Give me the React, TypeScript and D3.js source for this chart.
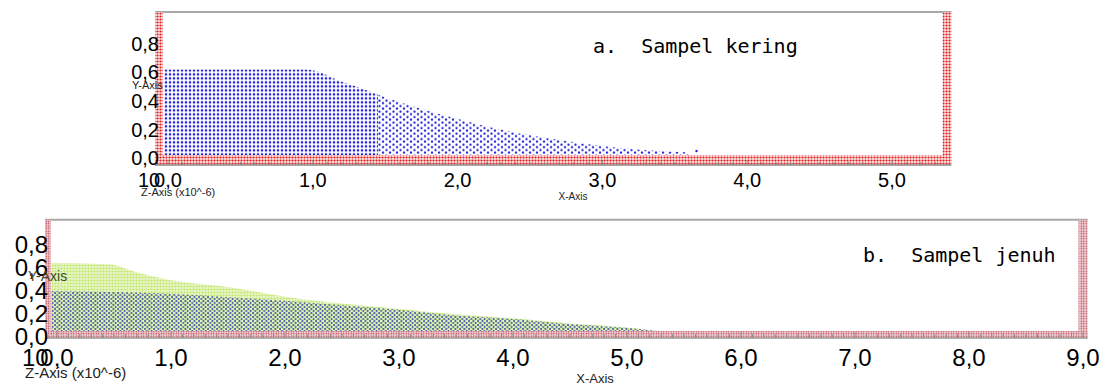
import React from 'react';
import * as d3 from 'd3';

// ---------- tick labels ----------
const yTickValues = [0, 0.2, 0.4, 0.6, 0.8];
const xTicksA = [0, 1, 2, 3, 4, 5];
const xTicksB = [0, 1, 2, 3, 4, 5, 6, 7, 8, 9];
const fmt = (v: number) => v.toFixed(1).replace('.', ',');

// ---------- panel a: dry sample free surface (x, height) ----------
const surfA_x = [-0.03, 0.95, 1.05, 1.16, 1.3, 1.46, 1.7, 1.98, 2.25, 2.5, 2.75, 3.0, 3.31, 3.6];
const surfA_h = [0.62, 0.62, 0.6, 0.55, 0.5, 0.44, 0.36, 0.28, 0.21, 0.16, 0.12, 0.085, 0.055, 0.04];
const strayA_x = [3.65];
const strayA_h = [0.05];

// ---------- panel b: saturated sample ----------
const surfBg_x = [-0.05, 0.45, 0.7, 1.0, 1.5, 2.0, 2.5, 3.0, 3.5, 4.0, 4.5, 5.0, 5.25];
const surfBg_h = [0.64, 0.63, 0.56, 0.49, 0.43, 0.345, 0.285, 0.24, 0.19, 0.155, 0.11, 0.075, 0.045];
const surfBb_x = [-0.05, 0.5, 1.0, 1.5, 2.0, 2.5, 3.0, 3.5, 4.0, 4.5, 5.0, 5.25];
const surfBb_h = [0.395, 0.385, 0.37, 0.34, 0.31, 0.27, 0.23, 0.18, 0.15, 0.105, 0.07, 0.045];

const FLOOR_A = 0.022;
const FLOOR_B = 0.044;

export default function App() {
  const xA = d3.scaleLinear().domain([0, 5]).range([168, 168 + 5 * 144.8]);
  const yA = d3.scaleLinear().domain([0, 1]).range([158.2, 158.2 - 143.25]);
  const xB = d3.scaleLinear().domain([0, 9]).range([57, 57 + 9 * 114]);
  const yB = d3.scaleLinear().domain([0, 1]).range([336, 222]);

  const mkArea = (xs: number[], hs: number[], x: any, y: any, floor: number) =>
    d3
      .area<number>()
      .x((_, i) => x(xs[i]))
      .y0(y(floor))
      .y1((_, i) => y(hs[i]))
      .curve(d3.curveMonotoneX)(hs) as string;

  const areaA = mkArea(surfA_x, surfA_h, xA, yA, FLOOR_A);
  const areaBg = mkArea(surfBg_x, surfBg_h, xB, yB, FLOOR_B);
  const areaBb = mkArea(surfBb_x, surfBb_h, xB, yB, FLOOR_B);

  const minorA = d3.range(0, 54, 1).map((i) => i / 10);
  const minorB = d3.range(0, 91, 1).map((i) => i / 10);

  const axisFont = "'Liberation Sans', Arial, sans-serif";
  const monoFont = "'DejaVu Sans Mono', monospace";

  // walls geometry (data units)
  const aL0 = -0.09, aL1 = -0.035, aR0 = 5.35, aR1 = 5.41, aTop = 1.02, aBot = -0.047;
  const bL0 = -0.105, bL1 = -0.053, bR0 = 8.96, bR1 = 9.04, bTop = 1.02, bBot = -0.018;

  return (
    <svg width={1108} height={385} style={{ position: 'absolute', left: 0, top: 0, background: '#fff' }}>
      <defs>
        <pattern id="blueDense" patternUnits="userSpaceOnUse" width={4} height={4} x={0} y={yA(0.62) - 1}>
          <circle cx={2} cy={2} r={1.3} fill="#2222dd" />
        </pattern>
        <pattern id="blueSparse" patternUnits="userSpaceOnUse" width={7} height={5.5}>
          <circle cx={1.5} cy={1.5} r={1.15} fill="#2424d8" />
          <circle cx={5} cy={4.2} r={1.15} fill="#2424d8" />
        </pattern>
        <pattern id="redWallA" patternUnits="userSpaceOnUse" width={3} height={3}>
          <rect width={3} height={3} fill="#fbe6e6" />
          <circle cx={1.5} cy={1.5} r={1.1} fill="#e01c1c" />
        </pattern>
        <pattern id="greenDots" patternUnits="userSpaceOnUse" width={3} height={3}>
          <rect width={3} height={3} fill="#eaf7cc" />
          <circle cx={1.5} cy={1.5} r={1.1} fill="#c2e66a" />
        </pattern>
        <pattern id="blueB" patternUnits="userSpaceOnUse" width={4.5} height={4}>
          <circle cx={1} cy={1} r={0.95} fill="#2f3fae" />
          <circle cx={3.2} cy={3} r={0.95} fill="#3d4db4" />
        </pattern>
        <pattern id="redWallB" patternUnits="userSpaceOnUse" width={2.5} height={2.5}>
          <rect width={2.5} height={2.5} fill="#f0d4d8" />
          <circle cx={1.25} cy={1.25} r={0.75} fill="#b83a4c" />
        </pattern>
        <clipPath id="clipDenseA">
          <rect x={0} y={0} width={xA(1.45)} height={200} />
        </clipPath>
        <clipPath id="clipSparseA">
          <rect x={xA(1.45)} y={0} width={1108} height={200} />
        </clipPath>
      </defs>

      {/* ================= PANEL A ================= */}
      <g>
        <line x1={xA(aL0)} x2={xA(aR1)} y1={yA(aTop)} y2={yA(aTop)} stroke="#a8a8a8" strokeWidth={2} />
        <path d={areaA} fill="url(#blueDense)" clipPath="url(#clipDenseA)" />
        <path d={areaA} fill="url(#blueSparse)" clipPath="url(#clipSparseA)" />
        {strayA_x.map((x, i) => (
          <circle key={i} cx={xA(x)} cy={yA(strayA_h[i])} r={1.2} fill="#2424d8" />
        ))}
        {/* walls */}
        <rect x={xA(aL0)} y={yA(aTop)} width={xA(aL1) - xA(aL0)} height={yA(aBot) - yA(aTop)} fill="url(#redWallA)" />
        <rect x={xA(aR0)} y={yA(aTop)} width={xA(aR1) - xA(aR0)} height={yA(aBot) - yA(aTop)} fill="url(#redWallA)" />
        <rect x={xA(aL0)} y={yA(FLOOR_A)} width={xA(aR1) - xA(aL0)} height={yA(aBot) - yA(FLOOR_A)} fill="url(#redWallA)" />
        <line x1={xA(aL0)} x2={xA(aR1)} y1={yA(aBot)} y2={yA(aBot)} stroke="#8a8a8a" strokeWidth={1.5} />
        {minorA.map((v) => (
          <line key={v} x1={xA(v)} x2={xA(v)} y1={yA(aBot)} y2={yA(aBot) - (Number.isInteger(v) ? 5 : 3)} stroke="#888" strokeWidth={1} />
        ))}
        {/* y tick labels */}
        {yTickValues.map((v) => (
          <text key={v} x={159} y={yA(v) + 7} textAnchor="end" fontFamily={axisFont} fontSize={20} fill="#000">
            {fmt(v)}
          </text>
        ))}
        {/* x tick labels */}
        {xTicksA.map((v) => (
          <text key={v} x={xA(v)} y={187} textAnchor="middle" fontFamily={axisFont} fontSize={20} fill="#000">
            {fmt(v)}
          </text>
        ))}
        <text x={138} y={187} fontFamily={axisFont} fontSize={20} fill="#000">10</text>
        <text x={132} y={89} fontFamily={axisFont} fontSize={11} fill="#222">Y-Axis</text>
        <text x={141} y={196} fontFamily={axisFont} fontSize={11} fill="#222">Z-Axis (x10^-6)</text>
        <text x={573} y={200} textAnchor="middle" fontFamily={axisFont} fontSize={10} fill="#222">X-Axis</text>
        <text x={593} y={53} fontFamily={monoFont} fontSize={20} fill="#000" style={{ whiteSpace: 'pre' }}>
          {'a.  Sampel kering'}
        </text>
      </g>

      {/* ================= PANEL B ================= */}
      <g>
        <line x1={xB(bL0)} x2={xB(bR1)} y1={yB(bTop)} y2={yB(bTop)} stroke="#a8a8a8" strokeWidth={2} />
        <path d={areaBg} fill="url(#greenDots)" />
        <path d={areaBb} fill="url(#blueB)" />
        {/* walls */}
        <rect x={xB(bL0)} y={yB(bTop)} width={xB(bL1) - xB(bL0)} height={yB(bBot) - yB(bTop)} fill="url(#redWallB)" />
        <rect x={xB(bR0)} y={yB(bTop)} width={xB(bR1) - xB(bR0)} height={yB(bBot) - yB(bTop)} fill="url(#redWallB)" />
        <rect x={xB(bL0)} y={yB(FLOOR_B)} width={xB(bR1) - xB(bL0)} height={yB(bBot) - yB(FLOOR_B)} fill="url(#redWallB)" />
        <line x1={xB(bL0)} x2={xB(bR1)} y1={yB(bBot)} y2={yB(bBot)} stroke="#9a9a9a" strokeWidth={1.5} />
        {minorB.map((v) => (
          <line key={v} x1={xB(v)} x2={xB(v)} y1={yB(bBot)} y2={yB(bBot) - (Number.isInteger(v) ? 6 : 4)} stroke="#8a8a8a" strokeWidth={1} />
        ))}
        {yTickValues.map((v) => (
          <text key={v} x={48} y={yB(v) + 8.5} textAnchor="end" fontFamily={axisFont} fontSize={24} fill="#000">
            {fmt(v)}
          </text>
        ))}
        {xTicksB.map((v) => (
          <text key={v} x={xB(v)} y={366} textAnchor="middle" fontFamily={axisFont} fontSize={24} fill="#000">
            {fmt(v)}
          </text>
        ))}
        <text x={22} y={366} fontFamily={axisFont} fontSize={24} fill="#000">10</text>
        <text x={28} y={281} fontFamily={axisFont} fontSize={14} fill="#3e4a2a">Y-Axis</text>
        <text x={25} y={378} fontFamily={axisFont} fontSize={15} fill="#222">Z-Axis (x10^-6)</text>
        <text x={595} y={383} textAnchor="middle" fontFamily={axisFont} fontSize={13} fill="#222">X-Axis</text>
        <text x={863} y={262} fontFamily={monoFont} fontSize={20} fill="#000" style={{ whiteSpace: 'pre' }}>
          {'b.  Sampel jenuh'}
        </text>
      </g>
    </svg>
  );
}
